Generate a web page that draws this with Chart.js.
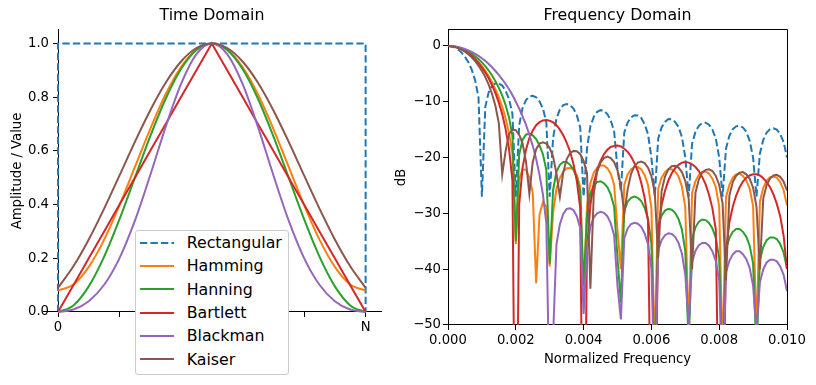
<!DOCTYPE html>
<html>
<head>
<meta charset="utf-8">
<title>Window functions</title>
<script src="https://cdn.jsdelivr.net/npm/chart.js@4"></script>
<style>
  html, body { margin: 0; padding: 0; background: #fff; }
  #wrap { position: relative; width: 816px; height: 385px; overflow: hidden; font-family: 'DejaVu Sans', sans-serif; }
  #timeChart { position: absolute; left: 0; top: 0; }
  #freqChart { position: absolute; left: 385px; top: 0; }
  #legend { position: absolute; left: 135px; top: 230px; width: 154px; height: 145px; box-sizing: border-box;
            border: 1px solid #cccccc; border-radius: 3px; background: #fff; }
  .row { height: 23.33px; display: flex; align-items: center; font-size: 15.8px; color: #000; white-space: nowrap; }
  .row svg { margin-left: 4px; margin-right: 12.7px; flex: none; }
</style>
</head>
<body>
<div id="wrap">
  <canvas id="timeChart" width="400" height="385"></canvas>
  <canvas id="freqChart" width="431" height="385"></canvas>
  <div id="legend"></div>
</div>
<script>
// window names and colours (legend order)
const windowNames = ['Rectangular', 'Hamming', 'Hanning', 'Bartlett', 'Blackman', 'Kaiser'];
const windowColors = ['#1f77b4', '#ff7f0e', '#2ca02c', '#d62728', '#9467bd', '#8c564b'];

// time domain: sample index 0..N (N = 1000)
const timeN = [0, 50, 100, 150, 200, 250, 300, 350, 400, 450, 500, 550, 600, 650, 700, 750, 800, 850, 900, 950, 1000];
const rectN = [0, 0, 1000, 1000];
const rectW = [0, 1, 1, 0];
const hammingW = [0.08, 0.1025, 0.168, 0.2695, 0.398, 0.54, 0.682, 0.8105, 0.912, 0.9775, 1.0, 0.9775, 0.912, 0.8105, 0.682, 0.54, 0.398, 0.2695, 0.168, 0.1025, 0.08];
const hanningW = [0, 0.0245, 0.0955, 0.206, 0.3455, 0.5, 0.6545, 0.794, 0.9045, 0.9755, 1.0, 0.9755, 0.9045, 0.794, 0.6545, 0.5, 0.3455, 0.206, 0.0955, 0.0245, 0];
const bartlettW = [0, 0.1, 0.2, 0.3, 0.4, 0.5, 0.6, 0.7, 0.8, 0.9, 1.0, 0.9, 0.8, 0.7, 0.6, 0.5, 0.4, 0.3, 0.2, 0.1, 0];
const blackmanW = [0, 0.0092, 0.0402, 0.1013, 0.2008, 0.34, 0.5098, 0.6893, 0.8492, 0.9602, 1.0, 0.9602, 0.8492, 0.6893, 0.5098, 0.34, 0.2008, 0.1013, 0.0402, 0.0092, 0];
const kaiserW = [0.09, 0.17, 0.27, 0.385, 0.5085, 0.6334, 0.7512, 0.8535, 0.9326, 0.9828, 1.0, 0.9828, 0.9326, 0.8535, 0.7512, 0.6334, 0.5085, 0.385, 0.27, 0.17, 0.09];

const timeXTicks = [0, 200, 400, 600, 800, 1000];
const timeXLabels = ['0', '', '', '', '', 'N'];
const timeYTicks = [0, 0.2, 0.4, 0.6, 0.8, 1.0];
const timeYLabels = ['0.0', '0.2', '0.4', '0.6', '0.8', '1.0'];

// frequency domain: normalized frequency and level in dB
const freqHz = [
  0, 0.0001, 0.0002, 0.0003, 0.0004, 0.0005, 0.0006, 0.0007, 0.0008, 0.0009,
  0.0010, 0.0011, 0.0012, 0.0013, 0.0014, 0.0015, 0.0016, 0.0017, 0.0018, 0.0019,
  0.0020, 0.0021, 0.0022, 0.0023, 0.0024, 0.0025, 0.0026, 0.0027, 0.0028, 0.0029,
  0.0030, 0.0031, 0.0032, 0.0033, 0.0034, 0.0035, 0.0036, 0.0037, 0.0038, 0.0039,
  0.0040, 0.0041, 0.0042, 0.0043, 0.0044, 0.0045, 0.0046, 0.0047, 0.0048, 0.0049,
  0.0050, 0.0051, 0.0052, 0.0053, 0.0054, 0.0055, 0.0056, 0.0057, 0.0058, 0.0059,
  0.0060, 0.0061, 0.0062, 0.0063, 0.0064, 0.0065, 0.0066, 0.0067, 0.0068, 0.0069,
  0.0070, 0.0071, 0.0072, 0.0073, 0.0074, 0.0075, 0.0076, 0.0077, 0.0078, 0.0079,
  0.0080, 0.0081, 0.0082, 0.0083, 0.0084, 0.0085, 0.0086, 0.0087, 0.0088, 0.0089,
  0.0090, 0.0091, 0.0092, 0.0093, 0.0094, 0.0095, 0.0096, 0.0097, 0.0098, 0.0099,
  0.0100];
const rectDb = [
  0, -0.07, -0.28, -0.65, -1.19, -1.92, -2.9, -4.23, -6.13, -9.2,
  -27, -10.9, -8.3, -7.1, -6.7, -6.7, -7.1, -8.0, -9.5, -12.1,
  -27, -14.2, -11.1, -9.7, -9.07, -8.92, -9.2, -9.9, -11.2, -13.6,
  -27, -16.5, -13.0, -11.4, -10.6, -10.4, -10.6, -11.2, -12.4, -14.6,
  -27, -18.4, -14.4, -12.7, -11.8, -11.5, -11.6, -12.2, -13.3, -15.3,
  -22, -26, -15.5, -13.7, -12.8, -12.4, -12.45, -12.9, -14.0, -15.8,
  -20.0, -27, -16.6, -14.6, -13.6, -13.1, -13.15, -13.6, -14.5, -16.3,
  -20.0, -27, -17.5, -15.4, -14.3, -13.8, -13.75, -14.1, -15.0, -16.6,
  -20.0, -27, -18.4, -16.1, -14.9, -14.4, -14.3, -14.6, -15.4, -17.0,
  -20.0, -27, -19.3, -16.8, -15.5, -14.9, -14.75, -15.0, -15.8, -17.2,
  -20.0];
const hammingDb = [
  0, -0.04, -0.14, -0.31, -0.54, -0.86, -1.24, -1.7, -2.26, -2.88,
  -3.62, -4.45, -5.42, -6.51, -7.77, -9.22, -10.9, -13.0, -15.6, -19.3,
  -35.5, -23.9, -22.1, -22.2, -23.55, -26.3, -42.5, -30.2, -28.0, -28.8,
  -39.5, -29.8, -25.6, -23.7, -22.5, -21.9, -21.85, -22.15, -23.2, -25.2,
  -45, -28.7, -24.6, -22.7, -21.8, -21.4, -21.4, -21.9, -22.9, -24.8,
  -33, -40, -24.9, -23.0, -22.1, -21.7, -21.7, -22.1, -23.1, -24.9,
  -29.1, -55, -25.6, -23.6, -22.6, -22.1, -22.1, -22.5, -23.4, -25.2,
  -28.9, -52, -26.35, -24.2, -23.1, -22.55, -22.5, -22.9, -23.8, -25.3,
  -28.8, -56, -27.1, -24.9, -23.6, -23.0, -22.9, -23.3, -24.1, -25.6,
  -28.7, -52, -27.9, -25.4, -24.1, -23.5, -23.4, -23.6, -24.4, -25.8,
  -28.6];
const hanningDb = [
  0, -0.03, -0.11, -0.25, -0.44, -0.7, -1.01, -1.38, -1.84, -2.34,
  -2.94, -3.61, -4.4, -5.29, -6.32, -7.5, -8.9, -10.6, -12.8, -16.1,
  -35, -19.45, -16.8, -15.9, -15.7, -16.0, -16.7, -17.8, -19.4, -22.2,
  -39, -25.8, -22.5, -21.3, -20.8, -20.8, -21.3, -22.1, -23.6, -26.0,
  -43, -30.3, -26.5, -25.0, -24.4, -24.25, -24.6, -25.3, -26.6, -28.8,
  -38, -46, -29.6, -27.9, -27.2, -27.0, -27.2, -27.8, -29.0, -31.0,
  -35.4, -58, -32.2, -30.4, -29.5, -29.2, -29.35, -29.9, -31.0, -32.9,
  -36.8, -54, -34.5, -32.5, -31.5, -31.1, -31.2, -31.7, -32.7, -34.4,
  -38.0, -58, -36.5, -34.4, -33.3, -32.8, -32.8, -33.3, -34.2, -35.8,
  -39.0, -55, -38.4, -36.0, -34.8, -34.3, -34.3, -34.6, -35.5, -37.0,
  -39.9];
const bartlettDb = [
  0, -0.035, -0.14, -0.32, -0.57, -0.89, -1.3, -1.79, -2.37, -3.05,
  -3.84, -4.75, -5.8, -7.03, -8.45, -10.2, -12.25, -14.9, -18.4, -24.1,
  -90, -28.4, -21.8, -18.6, -16.5, -15.15, -14.2, -13.66, -13.35, -13.26,
  -13.39, -13.7, -14.2, -15.0, -16.0, -17.3, -18.9, -21.1, -24.2, -29.0,
  -90, -36.7, -28.5, -24.6, -22.2, -20.6, -19.4, -18.6, -18.1, -17.9,
  -17.85, -18.0, -18.4, -19.0, -19.8, -21.0, -22.4, -24.5, -27.2, -31.4,
  -75, -75, -33.0, -28.5, -26.0, -24.1, -22.8, -21.9, -21.3, -20.9,
  -20.8, -20.9, -21.2, -21.7, -22.4, -23.5, -24.8, -26.65, -29.1, -32.9,
  -75, -75, -36.8, -31.6, -28.8, -26.8, -25.35, -24.3, -23.6, -23.2,
  -23.0, -23.0, -23.2, -23.7, -24.4, -25.3, -26.6, -28.3, -30.5, -34.0,
  -40.0];
const blackmanDb = [
  0, -0.02, -0.09, -0.2, -0.34, -0.54, -0.78, -1.05, -1.4, -1.77,
  -2.2, -2.67, -3.22, -3.82, -4.48, -5.19, -5.97, -6.82, -7.75, -8.8,
  -10.0, -11.2, -12.6, -14.1, -15.9, -17.9, -20.25, -23.1, -26.6, -31.8,
  -65, -52, -35.5, -31.95, -30.1, -29.2, -29.1, -29.4, -30.5, -32.6,
  -48, -36.4, -32.4, -30.7, -30.0, -29.7, -29.9, -30.5, -31.75, -33.9,
  -43, -49, -34.45, -32.7, -31.9, -31.7, -31.85, -32.4, -33.6, -35.5,
  -39.9, -62, -36.6, -34.8, -33.9, -33.55, -33.7, -34.2, -35.3, -37.2,
  -41.0, -50, -38.7, -36.7, -35.7, -35.3, -35.3, -35.8, -36.8, -38.5,
  -42.1, -62, -40.6, -38.5, -37.35, -36.8, -36.8, -37.3, -38.2, -39.8,
  -43.0, -51, -42.4, -40.0, -38.8, -38.3, -38.3, -38.6, -39.5, -41.0,
  -43.9];
const kaiserDb = [
  0, -0.04, -0.16, -0.36, -0.64, -1.01, -1.48, -2.04, -2.71, -3.52,
  -4.46, -5.58, -6.94, -8.6, -10.75, -13.86, -23, -18.8, -15.8, -15.0,
  -15.1, -15.9, -17.5, -20.7, -26.5, -20.8, -18.5, -17.5, -17.26, -17.5,
  -18.3, -19.8, -22.9, -27, -22.65, -20.3, -19.2, -18.8, -18.85, -19.4,
  -20.6, -22.75, -43.5, -26.5, -22.5, -20.9, -20.1, -19.84, -20.1, -20.8,
  -22.3, -25.1, -30, -25.7, -22.9, -21.5, -20.9, -20.7, -21.0, -21.8,
  -23.3, -26.3, -38, -26.0, -23.4, -22.1, -21.55, -21.45, -21.8, -22.6,
  -24.2, -27.4, -40, -26.3, -23.9, -22.7, -22.2, -22.1, -22.4, -23.3,
  -24.9, -28.2, -42, -26.8, -24.4, -23.25, -22.7, -22.6, -23.0, -23.8,
  -25.4, -28.8, -40, -27.3, -24.9, -23.75, -23.2, -23.1, -23.45, -24.3,
  -25.9];

const freqXTicks = [0, 0.002, 0.004, 0.006, 0.008, 0.01];
const freqXLabels = ['0.000', '0.002', '0.004', '0.006', '0.008', '0.010'];
const freqYTicks = [-50, -40, -30, -20, -10, 0];
const freqYLabels = ['\u221250', '\u221240', '\u221230', '\u221220', '\u221210', '0'];

Chart.defaults.font.family = "'DejaVu Sans', sans-serif";
Chart.defaults.color = '#000';

const zip = (xs, ys) => xs.map((x, i) => ({ x: x, y: ys[i] }));
const dash = [7.3, 3.2];

// top and right spines of the frequency plot
const boxFrame = {
  id: 'boxFrame',
  afterDraw(chart) {
    const { ctx, chartArea: a } = chart;
    const px = v => Math.round(v - 0.5) + 0.5;
    ctx.save();
    ctx.strokeStyle = '#000';
    ctx.lineWidth = 1;
    ctx.beginPath();
    ctx.moveTo(a.left, px(a.top));
    ctx.lineTo(px(a.right), px(a.top));
    ctx.lineTo(px(a.right), a.bottom);
    ctx.stroke();
    ctx.restore();
  }
};

// bottom spine of the time plot runs a little past x = 0
const spineStub = {
  id: 'spineStub',
  afterDraw(chart) {
    const { ctx, chartArea: a } = chart;
    const y = Math.round(a.bottom - 0.5) + 0.5;
    ctx.save();
    ctx.strokeStyle = '#000';
    ctx.lineWidth = 1;
    ctx.beginPath();
    ctx.moveTo(a.left - 15, y);
    ctx.lineTo(a.left, y);
    ctx.stroke();
    ctx.restore();
  }
};

const tickFont = { size: 13.2 };
const titleFont = { size: 15.8, weight: 'normal' };
const tickGrid = { drawOnChartArea: false, tickLength: 5, color: '#000', tickColor: '#000' };
const axisBorder = { color: '#000', width: 1 };

// ---- Time domain ----
const timeSets = [
  { label: windowNames[0], data: zip(rectN, rectW), borderDash: dash },
  { label: windowNames[1], data: zip(timeN, hammingW), cubicInterpolationMode: 'monotone' },
  { label: windowNames[2], data: zip(timeN, hanningW), cubicInterpolationMode: 'monotone' },
  { label: windowNames[3], data: zip(timeN, bartlettW) },
  { label: windowNames[4], data: zip(timeN, blackmanW), cubicInterpolationMode: 'monotone' },
  { label: windowNames[5], data: zip(timeN, kaiserW), cubicInterpolationMode: 'monotone' }
].map((d, i) => Object.assign(d, {
  borderColor: windowColors[i], borderWidth: 2, pointRadius: 0, fill: false, clip: false,
  order: windowNames.length - 1 - i
}));

new Chart(document.getElementById('timeChart'), {
  type: 'line',
  data: { datasets: timeSets },
  options: {
    responsive: false,
    animation: false,
    devicePixelRatio: 1,
    layout: { padding: { left: 43, right: 19, top: 0, bottom: 0 } },
    plugins: {
      legend: { display: false },
      tooltip: { enabled: false },
      title: { display: true, text: 'Time Domain', font: titleFont, color: '#000', fullSize: true,
               padding: { top: 6.5, bottom: 4.5 } }
    },
    scales: {
      x: {
        type: 'linear', min: 0, max: 1050,
        afterFit: s => { s.height = 73; },
        afterBuildTicks: s => { s.ticks = timeXTicks.map(v => ({ value: v })); },
        ticks: { callback: (v, i) => timeXLabels[i], autoSkip: false, maxRotation: 0, padding: 3, font: tickFont, color: '#000' },
        grid: tickGrid,
        border: axisBorder
      },
      y: {
        type: 'linear', min: 0, max: 1.05,
        afterFit: s => { s.width = 15; },
        afterBuildTicks: s => { s.ticks = timeYTicks.map(v => ({ value: v })); },
        // mirrored + negative padding keeps the labels left of the spine without clipping
        ticks: { callback: (v, i) => timeYLabels[i], autoSkip: false, mirror: true, crossAlign: 'far', padding: -30,
                 font: tickFont, color: '#000' },
        grid: tickGrid,
        border: axisBorder,
        title: { display: true, text: 'Amplitude / Value', font: tickFont, color: '#000', padding: { top: -33.6, bottom: 0 } }
      }
    }
  },
  plugins: [spineStub]
});

// ---- Frequency domain ----
const freqSeries = [rectDb, hammingDb, hanningDb, bartlettDb, blackmanDb, kaiserDb];
const freqSets = freqSeries.map((vals, i) => ({
  label: windowNames[i],
  data: zip(freqHz, vals),
  borderColor: windowColors[i],
  borderWidth: 2,
  borderDash: i === 0 ? dash : [],
  pointRadius: 0,
  fill: false,
  tension: 0,
  order: windowNames.length - 1 - i
}));

new Chart(document.getElementById('freqChart'), {
  type: 'line',
  data: { datasets: freqSets },
  options: {
    responsive: false,
    animation: false,
    devicePixelRatio: 1,
    layout: { padding: { left: 0, right: 29, top: 0, bottom: 0 } },
    plugins: {
      legend: { display: false },
      tooltip: { enabled: false },
      title: { display: true, text: 'Frequency Domain', font: titleFont, color: '#000', fullSize: false,
               padding: { top: 6.5, bottom: 4.5 } }
    },
    scales: {
      x: {
        type: 'linear', min: 0, max: 0.01,
        afterFit: s => { s.height = 60; },
        afterBuildTicks: s => { s.ticks = freqXTicks.map(v => ({ value: v })); },
        ticks: { callback: (v, i) => freqXLabels[i], autoSkip: false, maxRotation: 0, padding: 3, font: tickFont, color: '#000' },
        grid: tickGrid,
        border: axisBorder,
        title: { display: true, text: 'Normalized Frequency', font: tickFont, color: '#000', padding: { top: 0, bottom: 18 } }
      },
      y: {
        type: 'linear', min: -50, max: 2.87,
        afterFit: s => { s.width = 63; },
        afterBuildTicks: s => { s.ticks = freqYTicks.map(v => ({ value: v })); },
        ticks: { callback: (v, i) => freqYLabels[i], autoSkip: false, padding: 2, font: tickFont, color: '#000' },
        grid: tickGrid,
        border: axisBorder,
        title: { display: true, text: 'dB', font: tickFont, color: '#000', padding: { top: 8.4, bottom: 0 } }
      }
    }
  },
  plugins: [boxFrame]
});

// ---- Legend (drawn over the time plot) ----
const legendBox = document.getElementById('legend');
windowNames.forEach((name, i) => {
  const row = document.createElement('div');
  row.className = 'row';
  const dashAttr = i === 0 ? ' stroke-dasharray="7.3 3.2"' : '';
  row.innerHTML = '<svg width="34" height="12"><line x1="0" y1="6" x2="34" y2="6" stroke="' + windowColors[i] +
    '" stroke-width="2"' + dashAttr + '/></svg><span>' + name + '</span>';
  legendBox.appendChild(row);
});
</script>
</body>
</html>
